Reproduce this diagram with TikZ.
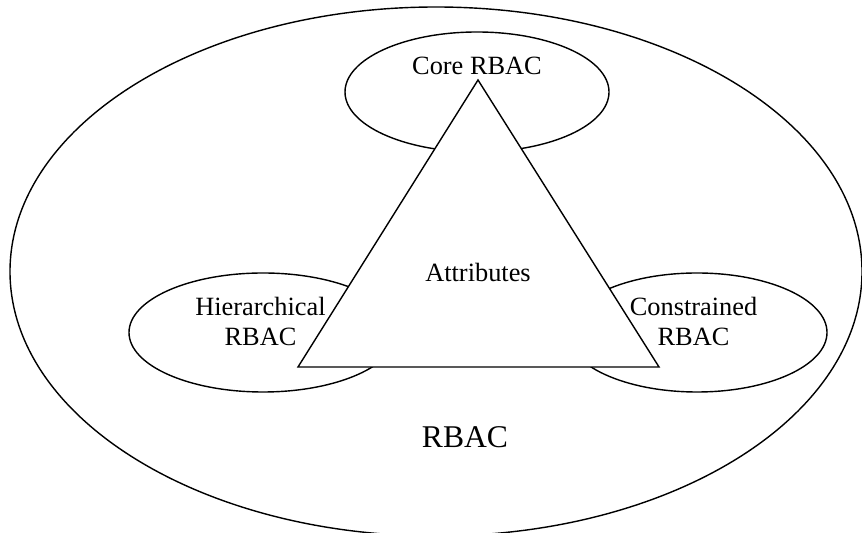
\documentclass[tikz,border=0pt]{standalone}
\usepackage{fontspec}
\setmainfont{Liberation Serif}
\usepackage{tikz}
\usetikzlibrary{shapes,arrows}

\begin{document}
\begin{tikzpicture}[line width=0.8pt]
\tikzstyle{every node}=[font=\fontsize{15}{17}\selectfont]
\useasboundingbox (0,0) rectangle (17.24,10.66);
\draw (8.72,5.23) ellipse (8.52 and 5.29);
\draw[fill={rgb,255:red,255; green,255; blue,255}] (9.54,8.82) ellipse (2.64 and 1.2);
\draw[fill={rgb,255:red,255; green,255; blue,255}] (5.26,4.01) ellipse (2.68 and 1.19);
\draw[fill={rgb,255:red,255; green,255; blue,255}] (13.94,4.01) ellipse (2.6 and 1.19);
\draw[fill={rgb,255:red,255; green,255; blue,255}] (9.56,9.06) -- (5.96,3.32) -- (13.18,3.32) -- cycle;
\node (core) at (9.54,9.34) {Core RBAC};
\node (attr) at (9.56,5.22) {Attributes};
\node [align=center] (hier) at (5.21,4.23) {Hierarchical\\RBAC};
\node [align=center] (cons) at (13.87,4.23) {Constrained\\RBAC};
\node [font=\fontsize{18}{21}\selectfont] (rbac) at (9.3,1.92) {RBAC};
\end{tikzpicture}
\end{document}
